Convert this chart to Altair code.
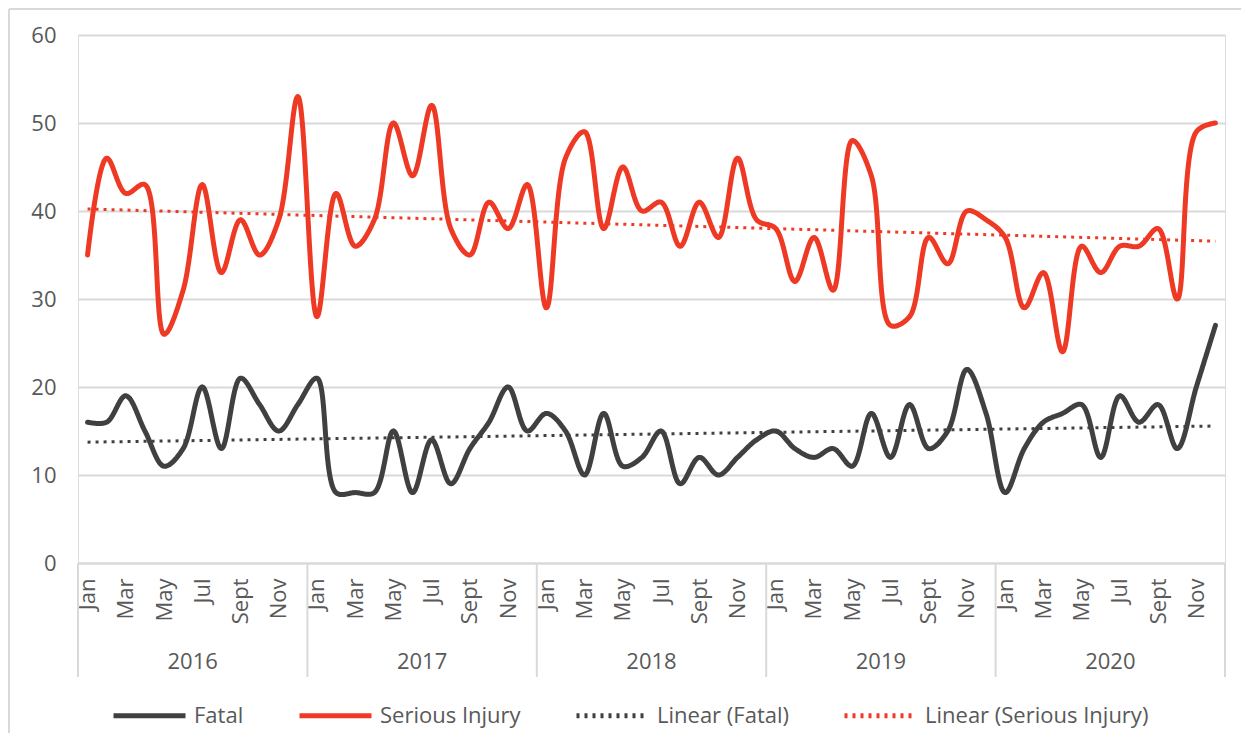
import json
import altair as alt
import pandas as pd

# ---------------- data ----------------
months = ["Jan", "Feb", "Mar", "Apr", "May", "Jun", "Jul", "Aug", "Sept", "Oct", "Nov", "Dec"]
years = ["2016", "2017", "2018", "2019", "2020"]

fatal = [
    16, 16, 19, 15, 11, 13, 20, 13, 21, 18, 15, 18,   # 2016
    21, 8, 8, 8, 15, 8, 14, 9, 13, 16, 20, 15,        # 2017
    17, 15, 10, 17, 11, 12, 15, 9, 12, 10, 12, 14,    # 2018
    15, 13, 12, 13, 11, 17, 12, 18, 13, 15, 22, 17,   # 2019
    8, 13, 16, 17, 18, 12, 19, 16, 18, 13, 20, 27,    # 2020
]
serious = [
    35, 46, 42, 43, 26, 31, 43, 33, 39, 35, 39, 53,   # 2016
    28, 42, 36, 39, 50, 44, 52, 38, 35, 41, 38, 43,   # 2017
    29, 46, 49, 38, 45, 40, 41, 36, 41, 37, 46, 39,   # 2018
    38, 32, 37, 31, 48, 44, 27, 28, 37, 34, 40, 39,   # 2019
    37, 29, 33, 24, 36, 33, 36, 36, 38, 30, 49, 50,   # 2020
]
series_names = ["Fatal", "Serious Injury"]
legend_labels = ["Fatal", "Serious Injury", "Linear (Fatal)", "Linear (Serious Injury)"]
y_ticks = [0, 10, 20, 30, 40, 50, 60]

# ---------------- tables ----------------
n = len(fatal)
rows = []
for i in range(n):
    rows.append({"idx": i, "label": series_names[0], "value": fatal[i]})
    rows.append({"idx": i, "label": series_names[1], "value": serious[i]})
df = pd.DataFrame(rows)

year_df = pd.DataFrame({"year": years, "mid": [12 * k + 5.5 for k in range(len(years))]})
sep_df = pd.DataFrame({"b": [12 * k - 0.5 for k in range(len(years) + 1)]})

# ---------------- style ----------------
FONT = "Open Sans"
FW = 500
TXT = "#595959"
GRID = "#d9d9d9"
DARK = "#404040"
RED = "#EE3A24"
W, H = 1147, 528
FS = 22

xscale = alt.Scale(domain=[-0.5, n - 0.5], nice=False, zero=False)
label_expr = json.dumps(months) + "[datum.value % 12]"
x_axis = alt.Axis(
    values=list(range(0, n, 2)), labelExpr=label_expr, labelAngle=270,
    ticks=False, tickSize=0, grid=False, domainColor=GRID, domainWidth=2,
    labelFontSize=FS, labelColor=TXT, labelFont=FONT, labelFontWeight=FW, labelPadding=15,
    labelFlush=False, labelOverlap=False, title=None,
)


def xenc(field):
    return alt.X(f"{field}:Q", scale=xscale, axis=x_axis, title=None)


yenc = alt.Y(
    "value:Q", scale=alt.Scale(domain=[0, 60], nice=False, zero=True),
    axis=alt.Axis(values=y_ticks, domain=False, ticks=False, gridColor=GRID, gridWidth=2,
                  labelFontSize=FS, labelColor=TXT, labelFont=FONT, labelFontWeight=FW,
                  labelPadding=22, title=None),
    title=None,
)

leg = alt.Legend(
    orient="none", legendX=33, legendY=642, direction="horizontal", columns=4,
    title=None, symbolType="stroke", symbolSize=5184, symbolStrokeWidth=5,
    labelFontSize=FS, labelColor=TXT, labelFont=FONT, labelFontWeight=FW, labelOffset=6,
    columnPadding=45, labelLimit=400,
)
color = alt.Color("label:N", scale=alt.Scale(domain=legend_labels, range=[DARK, RED, DARK, RED]), legend=leg)
dash = alt.StrokeDash("label:N", scale=alt.Scale(domain=legend_labels, range=[[1, 0], [1, 0], [3, 5], [3, 5]]), legend=leg)

seps = alt.Chart(sep_df).mark_rule(color=GRID, strokeWidth=2).encode(
    x=xenc("b"), y=alt.value(H), y2=alt.value(H + 114)
)
year_text = alt.Chart(year_df).mark_text(fontSize=FS, color=TXT, font=FONT, fontWeight=FW, baseline="middle").encode(
    x=xenc("mid"), y=alt.value(H + 99), text="year:N"
)
trend = (
    alt.Chart(df)
    .transform_regression("idx", "value", groupby=["label"], method="linear")
    .transform_calculate(label="'Linear (' + datum.label + ')'")
    .mark_line(strokeWidth=3)
    .encode(x=xenc("idx"), y=yenc, color=color, strokeDash=dash)
)
main = alt.Chart(df).mark_line(interpolate="catmull-rom", strokeWidth=5, strokeCap="round").encode(
    x=xenc("idx"), y=yenc, color=color, strokeDash=dash, order="idx:Q"
)
border_top = alt.Chart(sep_df).mark_rule(color=GRID, strokeWidth=2).encode(
    x=alt.value(-69), x2=alt.value(W + 20), y=alt.value(-26)
)
border_left = alt.Chart(sep_df).mark_rule(color=GRID, strokeWidth=2).encode(
    x=alt.value(-69), y=alt.value(-26), y2=alt.value(H + 200)
)

chart = (
    alt.layer(border_top, border_left, seps, year_text, trend, main)
    .properties(width=W, height=H, padding={"left": 70, "top": 27, "right": 16, "bottom": 170},
                autosize=alt.AutoSizeParams(type="none"))
    .configure_view(stroke=None)
    .configure(font=FONT)
)

chart.save("out.html", embed_options={"renderer": "svg", "actions": False})
